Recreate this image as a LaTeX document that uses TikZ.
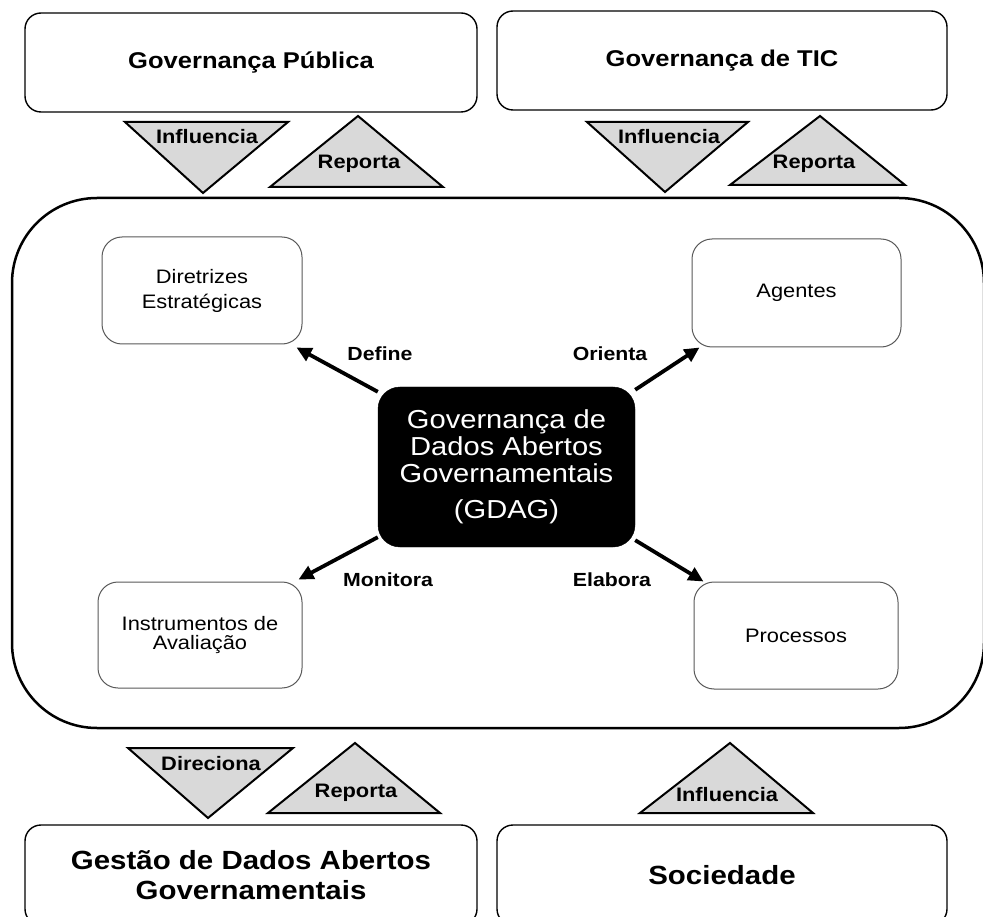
\documentclass[tikz,border=0pt]{standalone}
\usepackage{fontspec}
\setmainfont{Liberation Sans}[FakeStretch=1.12]
\usetikzlibrary{arrows.meta}
\tikzset{
  outerbox/.style={draw=black, line width=1.4pt, rounded corners=16pt, fill=white, align=center},
  innerbox/.style={draw=black!65, line width=1pt, rounded corners=20pt, fill=white, align=center},
  tri/.style={draw=black, line width=2pt, fill=black!15, line join=miter},
  trilabel/.style={font=\bfseries\fontsize{19.5}{22}\selectfont, inner sep=0pt},
  rel/.style={font=\bfseries\fontsize{19}{22}\selectfont, inner sep=0pt},
  arr/.style={line width=3.8pt, -{Triangle[length=15pt,width=14pt]}},
}
\begin{document}
\begin{tikzpicture}[x=1pt,y=-1pt]
\useasboundingbox (0,0) rectangle (983,917);
\clip (0,0) rectangle (983,917);
\fill[white] (0,0) rectangle (983,917);

% container
\node[draw=black, line width=2.5pt, rounded corners=85pt, minimum width=972pt, minimum height=530pt, inner sep=0pt] (cont) at (498,463) {};

% top boxes
\node[outerbox, minimum width=452pt, minimum height=99pt, font=\bfseries\fontsize{22.8}{26}\selectfont] (gp) at (251,62.5) {Governança Pública};
\node[outerbox, minimum width=450pt, minimum height=99pt, font=\bfseries\fontsize{22.8}{26}\selectfont] (tic) at (722,60.5) {Governança de TIC};

% bottom boxes
\node[outerbox, minimum width=452pt, minimum height=100pt, font=\bfseries\fontsize{26.3}{30}\selectfont] (gestao) at (251,875) {Gestão de Dados Abertos\\Governamentais};
\node[outerbox, minimum width=450pt, minimum height=100pt, font=\bfseries\fontsize{26.3}{30}\selectfont] (soc) at (722,875) {Sociedade};

% triangles top
\draw[tri] (125,122) -- (288,122) -- (203,193) -- cycle;
\draw[tri] (270,187) -- (443,187) -- (358,116) -- cycle;
\draw[tri] (587,122) -- (748,122) -- (665,192) -- cycle;
\draw[tri] (730,185) -- (905,185) -- (820,116) -- cycle;
% triangles bottom
\draw[tri] (128,748) -- (293,748) -- (208,818) -- cycle;
\draw[tri] (268,813) -- (440,813) -- (355,743) -- cycle;
\draw[tri] (640,813) -- (813,813) -- (730,743) -- cycle;

\node[trilabel] (t1) at (207,137) {Influencia};
\node[trilabel] (t2) at (359,164) {Reporta};
\node[trilabel] (t3) at (669,137) {Influencia};
\node[trilabel] (t4) at (814,164) {Reporta};
\node[trilabel] (t5) at (211,764) {Direciona};
\node[trilabel] (t6) at (356,793) {Reporta};
\node[trilabel] (t7) at (727,795) {Influencia};

% center
\node[fill=black, draw=black, rounded corners=22pt, minimum width=257pt, minimum height=160pt, text=white, align=center, font=\fontsize{26}{27}\selectfont, inner sep=0pt] (gdag) at (506.5,467) {Governança de\\Dados Abertos\\Governamentais\\[9pt](GDAG)};

% inner boxes
\node[innerbox, minimum width=200pt, minimum height=107pt, font=\fontsize{19.5}{25}\selectfont] (dir) at (202,290.5) {Diretrizes\\Estratégicas};
\node[innerbox, minimum width=209pt, minimum height=108pt, font=\fontsize{19.5}{25}\selectfont] (ag) at (796.5,293) {Agentes};
\node[innerbox, minimum width=204pt, minimum height=106pt, font=\fontsize{19.5}{19}\selectfont] (ins) at (200,635) {Instrumentos de\\Avaliação};
\node[innerbox, minimum width=204pt, minimum height=107pt, font=\fontsize{19.5}{25}\selectfont] (proc) at (796,635.5) {Processos};

% arrows
\draw[arr] ([yshift=-5pt]gdag.north west) -- ([xshift=-6pt,yshift=-3pt]dir.south east);
\draw[arr] ([yshift=-3pt]gdag.north east) -- ([xshift=8pt]ag.south west);
\draw[arr] ([yshift=10pt]gdag.south west) -- ([xshift=-4pt,yshift=2pt]ins.north east);
\draw[arr] ([yshift=7pt]gdag.south east) -- ([xshift=10pt]proc.north west);

\node[rel] (l1) at (380,354) {Define};
\node[rel] (l2) at (610,354) {Orienta};
\node[rel] (l3) at (388,580) {Monitora};
\node[rel] (l4) at (612,580) {Elabora};
\end{tikzpicture}
\end{document}
